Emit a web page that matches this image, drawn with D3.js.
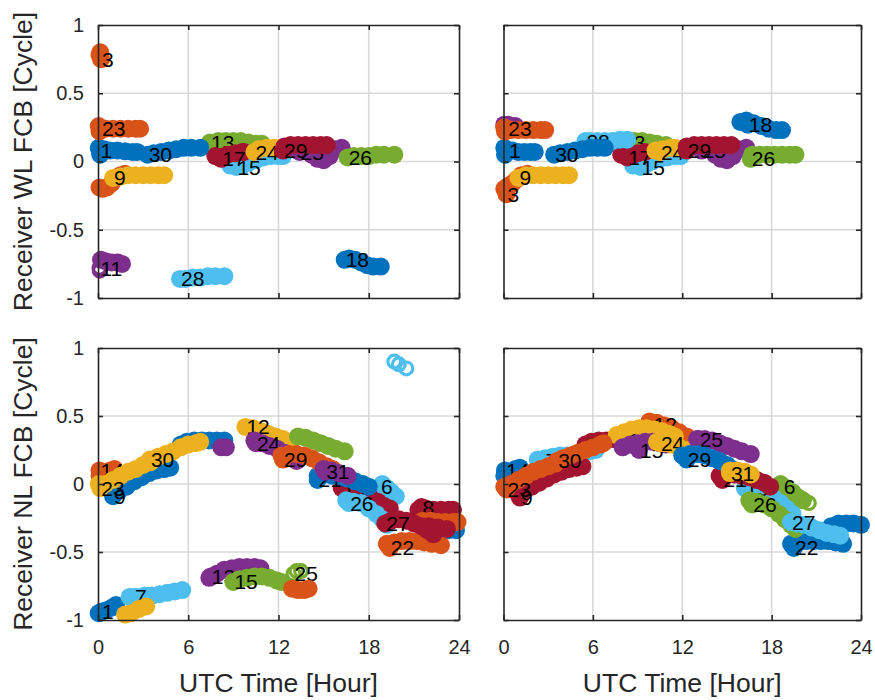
<!DOCTYPE html>
<html>
<head>
<meta charset="utf-8">
<script src="https://cdn.jsdelivr.net/npm/d3@7"></script>
<style>
  html, body { margin: 0; padding: 0; background: #ffffff; }
  svg { display: block; }
</style>
</head>
<body>
<div id="chart"></div>
<script>
// ---------------- data ----------------
const palette = ["#0072BD", "#D95319", "#EDB120", "#7E2F8E", "#77AC30", "#4DBEEE", "#A2142F"];
const xTicks = [0, 6, 12, 18, 24];
const xTickLabels = ["0", "6", "12", "18", "24"];
const yTicks = [-1, -0.5, 0, 0.5, 1];
const yTickLabels = ["-1", "-0.5", "0", "0.5", "1"];
const xTitle = "UTC Time [Hour]";
const yTitles = ["Receiver WL FCB [Cycle]", "Receiver NL FCB [Cycle]"];

// each track: [PRN label, colour index, points [hour, FCB, (0 = open marker)]]
// label is anchored at the first point
const wlRaw = [
  ["1", 0, [[0.1,0.08],[0.05,0.1],[0.15,0.05],[0.4,0.09],[0.8,0.08],[1.3,0.08],[1.8,0.075],[2.3,0.07],[2.6,0.07]]],
  ["3", 1, [[0.2,0.75],[0.1,0.78],[0.15,0.8],[0.1,-0.19],[0.3,-0.2],[0.6,-0.19],[0.9,-0.16],[1.2,-0.12],[1.5,-0.1],[1.8,-0.09]]],
  ["9", 2, [[1.0,-0.12],[1.5,-0.11],[2.0,-0.1],[2.5,-0.1],[3.0,-0.1],[3.5,-0.1],[4.0,-0.1],[4.4,-0.1]]],
  ["11", 3, [[0.1,-0.78,0],[0.12,-0.8,0],[0.2,-0.72],[0.5,-0.73],[0.9,-0.74],[1.3,-0.74],[1.6,-0.75]]],
  ["13", 4, [[7.45,0.14],[8.0,0.15],[8.5,0.15],[9.0,0.15],[9.5,0.15],[10.0,0.14],[10.5,0.13],[10.9,0.13]]],
  ["15", 5, [[9.2,-0.04],[8.8,-0.03],[9.6,-0.03],[10.0,-0.01],[10.5,0.01],[11.0,0.03],[11.5,0.04],[12.0,0.04],[12.3,0.04]]],
  ["17", 6, [[8.2,0.02],[7.8,0.04],[8.6,0.05],[9.1,0.06],[9.6,0.07],[9.7,0.07]]],
  ["18", 0, [[16.4,-0.72],[16.7,-0.71],[17.1,-0.72],[17.5,-0.74],[17.9,-0.76],[18.3,-0.77],[18.8,-0.77]]],
  ["23", 1, [[0.2,0.24],[0.05,0.26],[0.1,0.22],[0.5,0.24],[1.0,0.24],[1.5,0.24],[2.0,0.24],[2.5,0.24],[2.8,0.24]]],
  ["24", 2, [[10.4,0.07],[10.7,0.09],[11.2,0.1],[11.7,0.1],[12.2,0.1],[12.5,0.09]]],
  ["25", 3, [[13.4,0.07],[13.0,0.1],[13.8,0.08],[14.2,0.05],[14.6,0.02],[15.0,0.01],[15.4,0.04],[15.8,0.09],[16.2,0.1]]],
  ["26", 4, [[16.6,0.03],[17.0,0.04],[17.5,0.04],[18.0,0.04],[18.5,0.05],[19.0,0.05],[19.7,0.05]]],
  ["28", 5, [[5.45,-0.86],[5.8,-0.86],[6.3,-0.85],[6.8,-0.85],[7.3,-0.84],[7.8,-0.84],[8.4,-0.84]]],
  ["29", 6, [[12.3,0.08],[12.4,0.11],[12.8,0.12],[13.3,0.12],[13.8,0.12],[14.3,0.12],[14.8,0.12],[15.2,0.12]]],
  ["30", 0, [[3.3,0.05],[3.7,0.06],[4.2,0.07],[4.7,0.08],[5.2,0.09],[5.7,0.1],[6.2,0.1],[6.8,0.1]]]
];

const wlFixed = [
  ["1", 0, [[0.3,0.08],[0.05,0.1],[0.1,0.05],[0.6,0.08],[1.0,0.07],[1.4,0.07],[1.8,0.07],[2.1,0.07]]],
  ["3", 1, [[0.2,-0.24],[0.05,-0.2],[0.3,-0.18],[0.6,-0.16],[0.9,-0.13],[1.2,-0.1],[1.6,-0.09]]],
  ["9", 2, [[1.0,-0.12],[1.5,-0.1],[2.0,-0.1],[2.5,-0.1],[3.0,-0.1],[3.5,-0.1],[4.0,-0.1],[4.4,-0.1]]],
  ["11", 3, [[0.2,0.24],[0.05,0.27],[0.3,0.27],[0.6,0.26],[0.8,0.26]]],
  ["13", 4, [[7.9,0.14],[8.3,0.15],[8.8,0.15],[9.3,0.15],[9.8,0.14],[10.3,0.13],[10.9,0.12]]],
  ["15", 5, [[9.2,-0.04],[8.7,-0.03],[9.6,-0.02],[10.0,0.0],[10.5,0.02],[11.0,0.03],[11.5,0.04],[11.9,0.04]]],
  ["17", 6, [[8.3,0.03],[7.9,0.05],[8.6,0.04],[9.0,0.06],[9.5,0.07]]],
  ["18", 0, [[16.4,0.27],[15.9,0.29],[16.3,0.3],[16.8,0.28],[17.3,0.26],[17.8,0.24],[18.3,0.23],[18.7,0.23]]],
  ["23", 1, [[0.25,0.24],[0.05,0.25],[0.1,0.22],[0.5,0.23],[1.0,0.23],[1.5,0.23],[2.0,0.23],[2.5,0.23],[2.8,0.23]]],
  ["24", 2, [[10.5,0.07],[10.2,0.08],[10.7,0.09],[11.2,0.1],[11.5,0.1]]],
  ["25", 3, [[13.3,0.08],[13.8,0.09],[14.2,0.05],[14.6,0.02],[15.0,0.01],[15.4,0.04],[15.8,0.09],[16.3,0.1]]],
  ["26", 4, [[16.6,0.02],[16.7,0.05],[17.2,0.05],[17.7,0.05],[18.2,0.05],[18.7,0.05],[19.2,0.05],[19.6,0.05]]],
  ["28", 5, [[5.5,0.15],[5.8,0.15],[6.3,0.15],[6.8,0.15],[7.3,0.15],[7.8,0.16],[8.3,0.16]]],
  ["29", 6, [[12.3,0.08],[12.3,0.11],[12.8,0.12],[13.3,0.12],[13.8,0.12],[14.3,0.12],[14.8,0.12],[15.3,0.12]]],
  ["30", 0, [[3.4,0.05],[3.8,0.06],[4.3,0.07],[4.8,0.08],[5.3,0.09],[5.8,0.1],[6.3,0.1],[6.8,0.1]]]
];

const nlRaw = [
  ["1", 0, [[0.2,-0.94],[0.05,-0.95],[0.5,-0.93],[0.9,-0.91],[1.2,-0.89]]],
  ["2", 0, [[5.5,0.29],[5.9,0.31],[6.4,0.32],[6.9,0.32],[7.4,0.32],[7.9,0.32],[8.4,0.32]]],
  ["6", 5, [[18.75,-0.02],[18.9,0.0],[19.2,-0.03],[19.5,-0.06],[19.8,-0.09],[19.7,0.9,0],[20.0,0.88,0],[20.5,0.85,0]]],
  ["7", 5, [[2.4,-0.83],[2.1,-0.83],[2.6,-0.83],[3.1,-0.82],[3.6,-0.82],[4.1,-0.81],[4.6,-0.8],[5.1,-0.79],[5.6,-0.78]]],
  ["8", 6, [[21.5,-0.17],[21.3,-0.19],[21.8,-0.18],[22.3,-0.19],[22.8,-0.19],[23.3,-0.19],[23.6,-0.19]]],
  ["9", 0, [[1.0,-0.09],[0.9,-0.05],[1.4,-0.05],[1.9,-0.02],[2.4,0.02],[2.9,0.05],[3.4,0.08],[3.9,0.1],[4.4,0.11],[4.8,0.12]]],
  ["12", 2, [[9.8,0.42],[10.3,0.41],[10.8,0.39],[11.3,0.37],[11.8,0.35],[12.3,0.33],[12.8,0.31]]],
  ["13", 3, [[7.5,-0.68],[7.4,-0.69],[7.9,-0.66],[8.4,-0.63],[8.9,-0.62],[9.4,-0.61],[9.9,-0.61],[10.4,-0.61],[10.8,-0.62],[8.2,0.27],[8.5,0.27]]],
  ["14", 1, [[0.1,0.1],[0.1,0.06],[0.4,0.08],[0.8,0.1],[1.1,0.11]]],
  ["15", 4, [[9.0,-0.72],[9.4,-0.7],[9.9,-0.69],[10.4,-0.68],[10.9,-0.68],[11.4,-0.69],[11.9,-0.71],[12.2,-0.72]]],
  ["19", 6, [[16.2,-0.03],[16.6,-0.04],[17.1,-0.05],[17.6,-0.07],[18.1,-0.1],[18.6,-0.13],[19.0,-0.16],[19.4,-0.18]]],
  ["21", 0, [[14.6,0.03],[14.6,0.06],[15.1,0.07],[15.6,0.06],[16.1,0.05],[16.6,0.04],[17.1,0.02],[17.6,0.0],[18.0,-0.02],[22.3,-0.34],[22.8,-0.34],[23.3,-0.34],[23.8,-0.34]]],
  ["22", 1, [[19.4,-0.47],[19.2,-0.44],[19.7,-0.43],[20.2,-0.42],[20.7,-0.42],[21.2,-0.42],[21.7,-0.43],[22.2,-0.44],[22.8,-0.45],[21.6,-0.27],[22.1,-0.27],[22.6,-0.28],[23.1,-0.28],[23.6,-0.28],[23.9,-0.28]]],
  ["23", 2, [[0.15,-0.03],[0.05,0.0],[0.5,0.0],[1.0,0.03],[1.5,0.06],[2.0,0.09],[2.5,0.11],[3.0,0.14],[3.5,0.16],[1.8,-0.96],[2.2,-0.95],[2.7,-0.92],[3.2,-0.9]]],
  ["24", 3, [[10.5,0.3],[10.4,0.32],[10.9,0.3],[11.4,0.28],[11.9,0.26],[12.4,0.23],[12.9,0.2],[13.2,0.17]]],
  ["25", 4, [[13.0,-0.66,0],[13.2,-0.64,0],[13.5,-0.64,0],[13.3,0.35],[13.8,0.34],[14.3,0.32],[14.8,0.3],[15.3,0.28],[15.8,0.26],[16.4,0.24]]],
  ["26", 5, [[16.7,-0.14],[16.5,-0.12],[17.0,-0.13],[17.5,-0.14],[18.0,-0.18],[18.5,-0.22],[18.9,-0.26],[19.2,-0.3]]],
  ["27", 6, [[19.1,-0.29],[19.5,-0.27],[20.0,-0.26],[20.5,-0.27],[21.0,-0.29],[21.5,-0.31],[21.9,-0.34],[22.3,-0.37],[22.0,-0.31],[22.6,-0.32],[23.2,-0.33]]],
  ["29", 1, [[12.3,0.18],[12.2,0.21],[12.7,0.22],[13.2,0.22],[13.7,0.21],[14.2,0.19],[14.7,0.16],[15.2,0.13],[15.6,0.11],[12.9,-0.77],[13.3,-0.78],[13.7,-0.78],[14.0,-0.77]]],
  ["30", 2, [[3.45,0.18],[3.5,0.17],[4.0,0.2],[4.5,0.22],[5.0,0.24],[5.5,0.27],[6.0,0.29],[6.5,0.3],[6.8,0.31]]],
  ["31", 3, [[15.1,0.09],[15.0,0.11],[15.5,0.1],[16.0,0.08],[16.6,0.06]]]
];

const nlFixed = [
  ["2", 6, [[5.5,0.29],[5.9,0.31],[6.4,0.32],[6.9,0.32],[7.4,0.33],[7.9,0.33],[8.4,0.33],[9.0,0.33]]],
  ["6", 4, [[18.75,-0.02],[18.6,0.0],[19.0,-0.03],[19.4,-0.06],[19.8,-0.1],[20.1,-0.12],[20.5,-0.14,0]]],
  ["7", 5, [[2.75,0.17],[2.3,0.18],[2.8,0.19],[3.3,0.2],[3.8,0.21],[4.3,0.21],[4.8,0.22],[5.3,0.23],[5.8,0.24],[6.2,0.25]]],
  ["8", 0, [[21.5,-0.36],[22.0,-0.31],[22.5,-0.29],[23.0,-0.29],[23.5,-0.29],[24.0,-0.3]]],
  ["9", 6, [[1.1,-0.1],[0.9,-0.06],[1.4,-0.05],[1.9,-0.02],[2.4,0.01],[2.9,0.04],[3.4,0.07],[3.9,0.09],[4.4,0.11],[4.9,0.12],[5.3,0.13]]],
  ["12", 1, [[10.0,0.44],[9.8,0.46],[10.3,0.45],[10.8,0.43],[11.3,0.41],[11.8,0.38],[12.3,0.35],[12.7,0.32]]],
  ["13", 2, [[8.3,0.32],[7.6,0.36],[8.1,0.38],[8.6,0.4],[9.1,0.41],[9.6,0.41],[10.1,0.4],[10.6,0.39],[11.1,0.37],[11.5,0.35]]],
  ["14", 0, [[0.1,0.1],[0.05,0.06],[0.4,0.09],[0.8,0.11],[1.1,0.12]]],
  ["15", 3, [[9.1,0.25],[8.0,0.27],[8.5,0.29],[9.0,0.3],[9.5,0.31],[10.0,0.31],[10.5,0.3],[10.9,0.29]]],
  ["19", 5, [[16.2,-0.03],[16.6,-0.03],[17.1,-0.05],[17.6,-0.07],[18.1,-0.1],[18.6,-0.14],[19.0,-0.18],[19.4,-0.22]]],
  ["21", 6, [[14.7,0.03],[14.5,0.06],[15.0,0.07],[15.5,0.07],[16.0,0.06],[16.5,0.05],[17.0,0.03],[17.5,0.01],[17.9,-0.02]]],
  ["22", 0, [[19.5,-0.47],[19.3,-0.44],[19.8,-0.43],[20.3,-0.42],[20.8,-0.42],[21.3,-0.42],[21.8,-0.42],[22.3,-0.43],[22.8,-0.44]]],
  ["23", 1, [[0.2,-0.04],[0.05,-0.02],[0.5,0.0],[1.0,0.03],[1.5,0.06],[2.0,0.09],[2.5,0.11],[3.0,0.13],[3.5,0.15]]],
  ["24", 2, [[10.5,0.3],[10.3,0.31],[10.8,0.3],[11.3,0.29],[11.8,0.27],[12.3,0.25],[12.7,0.22]]],
  ["25", 3, [[13.1,0.33],[13.0,0.33],[13.5,0.33],[14.0,0.32],[14.5,0.3],[15.0,0.28],[15.5,0.26],[16.0,0.24],[16.6,0.22]]],
  ["26", 4, [[16.7,-0.15],[16.5,-0.12],[17.0,-0.13],[17.5,-0.15],[18.0,-0.18],[18.5,-0.22],[18.9,-0.26],[19.3,-0.3],[19.6,-0.33]]],
  ["27", 5, [[19.3,-0.28],[19.7,-0.29],[20.2,-0.3],[20.7,-0.32],[21.2,-0.34],[21.7,-0.36],[22.2,-0.37],[22.6,-0.38]]],
  ["29", 0, [[12.3,0.18],[12.0,0.21],[12.5,0.22],[13.0,0.22],[13.5,0.21],[14.0,0.19],[14.5,0.17],[15.0,0.14],[15.2,0.12]]],
  ["30", 1, [[3.6,0.17],[3.5,0.16],[4.0,0.19],[4.5,0.21],[5.0,0.23],[5.5,0.25],[6.0,0.27],[6.5,0.29],[6.7,0.3]]],
  ["31", 2, [[15.2,0.08],[15.2,0.1],[15.7,0.1],[16.2,0.09],[16.6,0.07]]]
];

// ---------------- layout ----------------
const W = 875, H = 700;
const FONT = "'Liberation Sans', Arial, Helvetica, sans-serif";
const AX = "#262626";
const panels = [
  { data: wlRaw,   x0: 98,    x1: 459, y0: 25,  y1: 298, left: true,  bottom: false, row: 0 },
  { data: wlFixed, x0: 503.5, x1: 861, y0: 25,  y1: 298, left: false, bottom: false, row: 0 },
  { data: nlRaw,   x0: 98,    x1: 459, y0: 348, y1: 620, left: true,  bottom: true,  row: 1 },
  { data: nlFixed, x0: 503.5, x1: 861, y0: 348, y1: 620, left: false, bottom: true,  row: 1 }
];
const R = 9;

const svg = d3.select("#chart").append("svg")
  .attr("width", W).attr("height", H)
  .attr("font-family", FONT);
svg.append("rect").attr("width", W).attr("height", H).attr("fill", "#fff");

panels.forEach(p => {
  const x = d3.scaleLinear().domain([0, 24]).range([p.x0, p.x1]);
  const y = d3.scaleLinear().domain([-1, 1]).range([p.y1, p.y0]);
  const g = svg.append("g");

  // grid
  g.append("g").selectAll("line").data(xTicks.slice(1, -1)).join("line")
    .attr("x1", d => x(d)).attr("x2", d => x(d))
    .attr("y1", p.y0).attr("y2", p.y1)
    .attr("stroke", "#d9d9d9").attr("stroke-width", 1.6);
  g.append("g").selectAll("line").data(yTicks.slice(1, -1)).join("line")
    .attr("y1", d => y(d)).attr("y2", d => y(d))
    .attr("x1", p.x0).attr("x2", p.x1)
    .attr("stroke", "#d9d9d9").attr("stroke-width", 1.6);

  // markers + labels, drawn track by track
  p.data.forEach(tr => {
    const [prn, ci, pts] = tr;
    const col = palette[ci];
    const tg = g.append("g");
    tg.selectAll("circle").data(pts).join("circle")
      .attr("cx", d => x(d[0])).attr("cy", d => y(d[1]))
      .attr("r", d => d[2] === 0 ? 6.4 : R)
      .attr("fill", d => d[2] === 0 ? "none" : col)
      .attr("stroke", col)
      .attr("stroke-width", d => d[2] === 0 ? 3.2 : 0);
    tg.append("text")
      .attr("x", x(pts[0][0]) + 1)
      .attr("y", y(pts[0][1]))
      .attr("dy", "0.36em")
      .attr("font-size", 21)
      .attr("fill", "#000")
      .text(prn);
  });

  // axes (ticks inward, box)
  const tl = 5;
  const axL = d3.axisLeft(y).tickValues(yTicks).tickSizeInner(-tl).tickSizeOuter(0).tickPadding(14)
    .tickFormat((d, i) => p.left ? yTickLabels[i] : "");
  const axR = d3.axisRight(y).tickValues(yTicks).tickSizeInner(-tl).tickSizeOuter(0).tickFormat("");
  const axB = d3.axisBottom(x).tickValues(xTicks).tickSizeInner(-tl).tickSizeOuter(0).tickPadding(20)
    .tickFormat((d, i) => p.bottom ? xTickLabels[i] : "");
  const axT = d3.axisTop(x).tickValues(xTicks).tickSizeInner(-tl).tickSizeOuter(0).tickFormat("");

  const style = sel => {
    sel.selectAll("path.domain").attr("stroke", AX).attr("stroke-width", 1.6);
    sel.selectAll(".tick line").attr("stroke", AX).attr("stroke-width", 1.6);
    sel.selectAll(".tick text").attr("fill", AX).attr("font-size", 20).attr("font-family", FONT);
  };
  g.append("g").attr("transform", `translate(${p.x0},0)`).call(axL).call(style);
  g.append("g").attr("transform", `translate(${p.x1},0)`).call(axR).call(style);
  g.append("g").attr("transform", `translate(0,${p.y1})`).call(axB).call(style);
  g.append("g").attr("transform", `translate(0,${p.y0})`).call(axT).call(style);

  if (p.bottom) {
    svg.append("text")
      .attr("x", (p.x0 + p.x1) / 2).attr("y", 692)
      .attr("text-anchor", "middle")
      .attr("font-size", 26.5).attr("fill", AX)
      .text(xTitle);
  }
  if (p.left) {
    const cy = (p.y0 + p.y1) / 2;
    svg.append("text")
      .attr("transform", `translate(32,${cy}) rotate(-90)`)
      .attr("text-anchor", "middle")
      .attr("font-size", 26.5).attr("fill", AX)
      .text(yTitles[p.row]);
  }
});
</script>
</body>
</html>
